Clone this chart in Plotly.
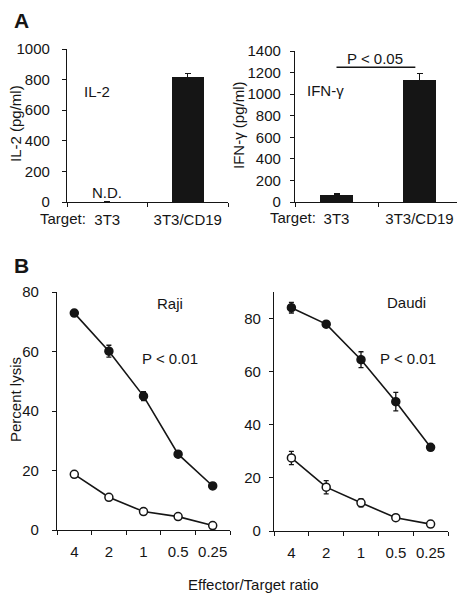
import plotly.graph_objects as go

# ---- data ----
bar_cats = ["3T3", "3T3/CD19"]
il2_vals = [0, 815]
il2_err = [0, 25]
ifn_vals = [65, 1130]
ifn_err = [8, 60]

ratios = ["4", "2", "1", "0.5", "0.25"]
raji_car = [72.9, 60.1, 45.0, 25.5, 14.8]
raji_car_err = [0.8, 2.0, 1.5, 0.8, 0.8]
raji_ctrl = [18.7, 11.0, 6.2, 4.5, 1.5]
raji_ctrl_err = [0.6, 0.6, 0.8, 0.5, 0.4]
daudi_car = [84.1, 77.9, 64.5, 48.7, 31.5]
daudi_car_err = [2.0, 0.6, 3.0, 3.5, 1.0]
daudi_ctrl = [27.5, 16.5, 10.6, 5.0, 2.6]
daudi_ctrl_err = [2.5, 2.5, 1.5, 0.6, 0.4]

FONT = "Liberation Sans, Arial, Helvetica, sans-serif"
INK = "#151515"
FS = 15

# page body has an 8px margin, so the figure is sized to fit inside the window
OFF = 8
W, H = 465 - OFF, 600 - OFF
def px(x):
    return (x - OFF) / W
def py(y):
    return 1 - (y - OFF) / H

fig = go.Figure()

# Panel A bars
fig.add_trace(go.Bar(x=bar_cats, y=il2_vals, width=0.4, marker=dict(color=INK, line=dict(width=0)),
                     error_y=dict(type="data", array=il2_err, color=INK, thickness=1.3, width=3),
                     xaxis="x", yaxis="y", showlegend=False))
fig.add_trace(go.Bar(x=bar_cats, y=ifn_vals, width=0.4, marker=dict(color=INK, line=dict(width=0)),
                     error_y=dict(type="data", array=ifn_err, color=INK, thickness=1.3, width=3),
                     xaxis="x2", yaxis="y2", showlegend=False))

def line_trace(vals, errs, filled, xa, ya):
    return go.Scatter(
        x=ratios, y=vals, mode="lines+markers", xaxis=xa, yaxis=ya, showlegend=False,
        line=dict(color=INK, width=1.6),
        marker=dict(size=8, color=INK if filled else "white", line=dict(color=INK, width=1.5)),
        error_y=dict(type="data", array=errs, color=INK, thickness=1.3, width=2.5),
    )

fig.add_trace(line_trace(raji_ctrl, raji_ctrl_err, False, "x3", "y3"))
fig.add_trace(line_trace(raji_car, raji_car_err, True, "x3", "y3"))
fig.add_trace(line_trace(daudi_ctrl, daudi_ctrl_err, False, "x4", "y4"))
fig.add_trace(line_trace(daudi_car, daudi_car_err, True, "x4", "y4"))

axis_common = dict(showline=True, linecolor=INK, linewidth=1.3, ticks="outside", ticklen=4,
                   tickwidth=1.3, tickcolor=INK, showgrid=False, zeroline=False,
                   tickfont=dict(family=FONT, size=FS, color=INK), fixedrange=True,
                   automargin=False, tickangle=0)

fig.update_layout(
    width=W, height=H, margin=dict(l=0, r=0, t=0, b=0, autoexpand=False),
    paper_bgcolor="white", plot_bgcolor="white",
    font=dict(family=FONT, size=FS, color=INK),
    bargap=0,
    xaxis=dict(domain=[px(67), px(228)], anchor="y", type="category", range=[-0.5, 1.5],
               tickson="boundaries", ticklabelstandoff=4, **axis_common),
    yaxis=dict(domain=[py(202), py(49)], anchor="x", range=[0, 1000], dtick=200,
               ticklabelstandoff=9, **axis_common),
    xaxis2=dict(domain=[px(295), px(461)], anchor="y2", type="category", range=[-0.5, 1.5],
                tickson="boundaries", ticklabelstandoff=3, **axis_common),
    yaxis2=dict(domain=[py(202), py(51)], anchor="x2", range=[0, 1400], dtick=200,
                ticklabelstandoff=6, **axis_common),
    xaxis3=dict(domain=[px(57), px(230)], anchor="y3", type="category", range=[-0.5, 4.5],
                tickson="boundaries", ticklabelstandoff=8, **axis_common),
    yaxis3=dict(domain=[py(530), py(292)], anchor="x3", range=[0, 80], dtick=20,
                ticklabelstandoff=10, **axis_common),
    xaxis4=dict(domain=[px(274), px(448)], anchor="y4", type="category", range=[-0.5, 4.5],
                tickson="boundaries", ticklabelstandoff=8, **axis_common),
    yaxis4=dict(domain=[py(531), py(292)], anchor="x4", range=[0, 90], tickvals=[0, 20, 40, 60, 80],
                ticklabelstandoff=5, **axis_common),
)

# significance line in panel A right
fig.add_shape(type="line", xref="x2", yref="y2", x0=0.0, x1=0.95, y0=1250, y1=1250,
              line=dict(color=INK, width=1.6))

def ann(text, x, y, xref="paper", yref="paper", size=FS, xanchor="center", yanchor="middle", **kw):
    fig.add_annotation(text=text, x=x, y=y, xref=xref, yref=yref, showarrow=False,
                       xanchor=xanchor, yanchor=yanchor, borderpad=0,
                       font=dict(family=FONT, size=size, color=INK), **kw)

# panel letters
ann("<b>A</b>", px(21), py(21), size=21)
ann("<b>B</b>", px(21), py(266), size=21)

# axis titles
ann("IL-2 (pg/ml)", px(15), py(124), textangle=-90)
ann("IFN-γ (pg/ml)", px(239), py(125), textangle=-90)
ann("Percent lysis", px(15), py(400), textangle=-90)
ann("Effector/Target ratio", px(253), py(584))

# "Target:" prefix before tick labels
ann("Target:", px(87), py(218), xanchor="right")
ann("Target:", px(317), py(217), xanchor="right")

# in-plot labels
ann("IL-2", -0.3, 720, xref="x", yref="y", xanchor="left")
ann("N.D.", 0, 60, xref="x", yref="y")
ann("IFN-γ", -0.37, 1030, xref="x2", yref="y2", xanchor="left")
ann("P < 0.05", 0.46, 1326, xref="x2", yref="y2")
ann("Raji", 2.77, 76.3, xref="x3", yref="y3")
ann("P < 0.01", 2.77, 57.8, xref="x3", yref="y3")
ann("Daudi", 3.32, 86.2, xref="x4", yref="y4")
ann("P < 0.01", 3.35, 64.8, xref="x4", yref="y4")

fig.write_html("out.html")
